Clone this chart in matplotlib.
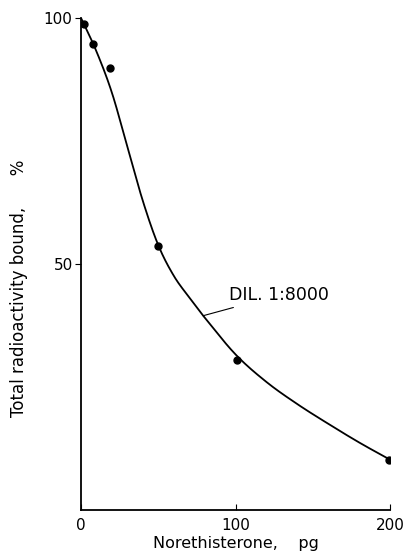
import matplotlib
matplotlib.use("Agg")
import matplotlib.pyplot as plt
import numpy as np

# measured points
dose = [2, 8, 19, 50, 101, 199]
bound = [98.8, 94.7, 89.8, 53.7, 30.5, 10.2]

# hand-drawn fitted curve
curve_x = [0, 10, 20, 30, 40, 50, 60, 70, 80, 100, 120, 140, 160, 180, 200]
curve_y = [100, 93.2, 84.8, 73.8, 62.8, 53.8, 47.6, 43.2, 39.1, 31.6,
           26.0, 21.5, 17.5, 13.7, 10.2]

xticks = [0, 100, 200]
yticks = [50, 100]


def smooth(xs, ys, n=20):
    # catmull-rom through the read points, just to draw a smooth line
    p = np.column_stack([xs, ys]).astype(float)
    p = np.vstack([p[0], p, p[-1]])
    out = []
    t = np.linspace(0, 1, n, endpoint=False)[:, None]
    for i in range(1, len(p) - 2):
        p0, p1, p2, p3 = p[i - 1], p[i], p[i + 1], p[i + 2]
        seg = 0.5 * ((2 * p1) + (-p0 + p2) * t
                     + (2 * p0 - 5 * p1 + 4 * p2 - p3) * t ** 2
                     + (-p0 + 3 * p1 - 3 * p2 + p3) * t ** 3)
        out.append(seg)
    out.append(p[-2][None, :])
    out = np.vstack(out)
    return out[:, 0], out[:, 1]


plt.rcParams['font.family'] = ['DejaVu Sans']

fig = plt.figure(figsize=(4.07, 5.56), dpi=100)
ax = fig.add_axes([0.199, 0.0827, 0.76, 0.885])

sx, sy = smooth(curve_x, curve_y)
ax.plot(sx, sy, color='black', lw=1.3)
ax.plot(dose, bound, 'o', color='black', ms=5)

ax.set_xlim(0, 200)
ax.set_ylim(0, 100)
ax.spines['top'].set_visible(False)
ax.spines['right'].set_visible(False)
ax.spines['left'].set_linewidth(1.3)
ax.spines['bottom'].set_linewidth(1.3)

ax.set_xticks(xticks)
ax.set_xticklabels([str(t) for t in xticks], fontsize=11)
ax.set_yticks(yticks)
ax.set_yticklabels([str(t) for t in yticks], fontsize=11)
ax.tick_params(axis='x', direction='in', length=4, pad=6)
ax.tick_params(axis='y', direction='out', length=4, pad=2)

ax.set_xlabel('Norethisterone,    pg', fontsize=11.5, labelpad=2)
ax.set_ylabel('Total radioactivity bound,      %', fontsize=12)
ax.yaxis.set_label_coords(-0.17, 0.45)

lead_x = 79
lead_y = float(np.interp(lead_x, sx, sy))
ax.annotate('DIL. 1:8000', xy=(lead_x, lead_y), xytext=(96, 43.7),
            fontsize=12.5, va='center', ha='left',
            arrowprops=dict(arrowstyle='-', color='black', lw=0.8,
                            shrinkA=2, shrinkB=0))

fig.savefig('out.png', dpi=100)
